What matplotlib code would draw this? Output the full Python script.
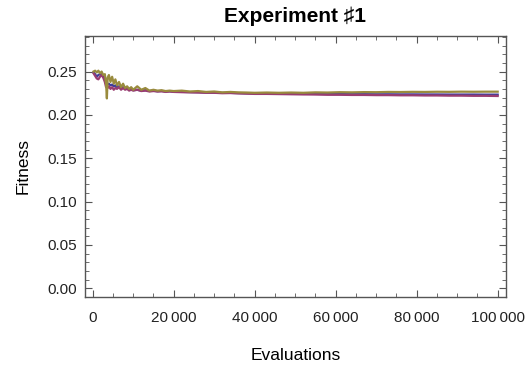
import matplotlib
matplotlib.use("Agg")
import matplotlib.pyplot as plt
from matplotlib.ticker import MultipleLocator, FixedLocator

plt.rcParams['font.family'] = ['Liberation Sans', 'DejaVu Sans']

evals = [200, 600, 1000, 1400, 1800, 2200, 2600, 3000, 3300, 3500, 3700, 4000,
         4400, 4800, 5200, 5600, 6000, 6500, 7000, 7500, 8000, 8500, 9000, 9500,
         10000, 11000, 12000, 13000, 14000, 15000, 16000, 17000, 18000, 19000,
         20000, 22000, 24000, 26000, 28000, 30000, 32000, 34000, 36000, 38000,
         40000, 43000, 46000, 49000, 52000, 55000, 58000, 61000, 64000, 67000,
         70000, 73000, 76000, 79000, 82000, 85000, 88000, 91000, 94000, 97000,
         100000]

run_blue = [0.249, 0.247, 0.244, 0.246, 0.247, 0.248, 0.245, 0.241, 0.238, 0.236,
            0.235, 0.236, 0.234, 0.235, 0.233, 0.234, 0.232, 0.233, 0.231, 0.232,
            0.230, 0.231, 0.229, 0.230, 0.2285, 0.229, 0.228, 0.2285, 0.2275, 0.228,
            0.2272, 0.2276, 0.227, 0.2272, 0.2268, 0.2266, 0.2263, 0.2262, 0.2258,
            0.2257, 0.2254, 0.2254, 0.2251, 0.2249, 0.2247, 0.2247, 0.2245, 0.2244,
            0.2243, 0.2242, 0.2241, 0.224, 0.2239, 0.2239, 0.2238, 0.2238, 0.2237,
            0.2237, 0.2236, 0.2236, 0.2235, 0.2235, 0.2235, 0.2234, 0.2234]

run_magenta = [0.248, 0.245, 0.242, 0.241, 0.244, 0.246, 0.243, 0.238, 0.232, 0.234,
               0.231, 0.233, 0.230, 0.232, 0.229, 0.231, 0.230, 0.232, 0.229, 0.231,
               0.229, 0.230, 0.228, 0.229, 0.228, 0.229, 0.2275, 0.228, 0.227, 0.2275,
               0.227, 0.2272, 0.2265, 0.227, 0.2265, 0.2262, 0.226, 0.2258, 0.2255,
               0.2255, 0.225, 0.2252, 0.2248, 0.2245, 0.2242, 0.2242, 0.224, 0.2238,
               0.2236, 0.2235, 0.2232, 0.2232, 0.223, 0.223, 0.2228, 0.2228, 0.2226,
               0.2226, 0.2224, 0.2224, 0.2222, 0.2222, 0.222, 0.222, 0.2218]

run_olive = [0.250, 0.251, 0.249, 0.251, 0.248, 0.250, 0.246, 0.247, 0.236, 0.219,
             0.243, 0.246, 0.238, 0.244, 0.236, 0.241, 0.234, 0.238, 0.232, 0.236,
             0.231, 0.233, 0.230, 0.232, 0.229, 0.233, 0.229, 0.231, 0.228, 0.229,
             0.228, 0.2285, 0.2275, 0.228, 0.2275, 0.228, 0.227, 0.2275, 0.2265,
             0.227, 0.226, 0.2265, 0.226, 0.2258, 0.2255, 0.2258, 0.2255, 0.2258,
             0.2255, 0.226, 0.2258, 0.2262, 0.226, 0.2263, 0.2262, 0.2265, 0.2264,
             0.2266, 0.2265, 0.2267, 0.2266, 0.2268, 0.2267, 0.2268, 0.2268]

x_ticks = [0, 20000, 40000, 60000, 80000, 100000]
x_tick_labels = ['0', '20\u2009000', '40\u2009000', '60\u2009000', '80\u2009000', '100\u2009000']
y_ticks = [0.00, 0.05, 0.10, 0.15, 0.20, 0.25]
y_tick_labels = ['0.00', '0.05', '0.10', '0.15', '0.20', '0.25']

fig = plt.figure(figsize=(5.27, 3.71), dpi=100)
ax = fig.add_axes([85 / 527, 1 - 297 / 371, 421 / 527, 261 / 371])

ax.plot(evals, run_blue, color=(0.2472, 0.24, 0.6), lw=1.6)
ax.plot(evals, run_magenta, color=(0.6, 0.24, 0.4429), lw=1.6)
ax.plot(evals, run_olive, color=(0.6, 0.547, 0.24), lw=1.6)

ax.set_xlim(-1900, 102050)
ax.set_ylim(-0.010, 0.291)

frame = '#555555'
for s in ax.spines.values():
    s.set_color(frame)
    s.set_linewidth(1.0)

ax.xaxis.set_major_locator(FixedLocator(x_ticks))
ax.set_xticklabels(x_tick_labels)
ax.xaxis.set_minor_locator(MultipleLocator(5000))
ax.yaxis.set_major_locator(FixedLocator(y_ticks))
ax.set_yticklabels(y_tick_labels)
ax.yaxis.set_minor_locator(MultipleLocator(0.01))

ax.tick_params(which='both', direction='in', top=True, right=True, color=frame,
               labelsize=11, labelcolor='#222222')
ax.tick_params(axis='x', which='major', length=5, pad=10)
ax.tick_params(axis='y', which='major', length=5, pad=6)
ax.tick_params(which='minor', length=3)

ax.set_title('Experiment \u266f1', fontsize=15, fontweight='bold', pad=10)
ax.set_xlabel('Evaluations', fontsize=12.5, labelpad=17)
ax.set_ylabel('Fitness', fontsize=12.5, labelpad=12)

fig.savefig('out.png', dpi=100)
